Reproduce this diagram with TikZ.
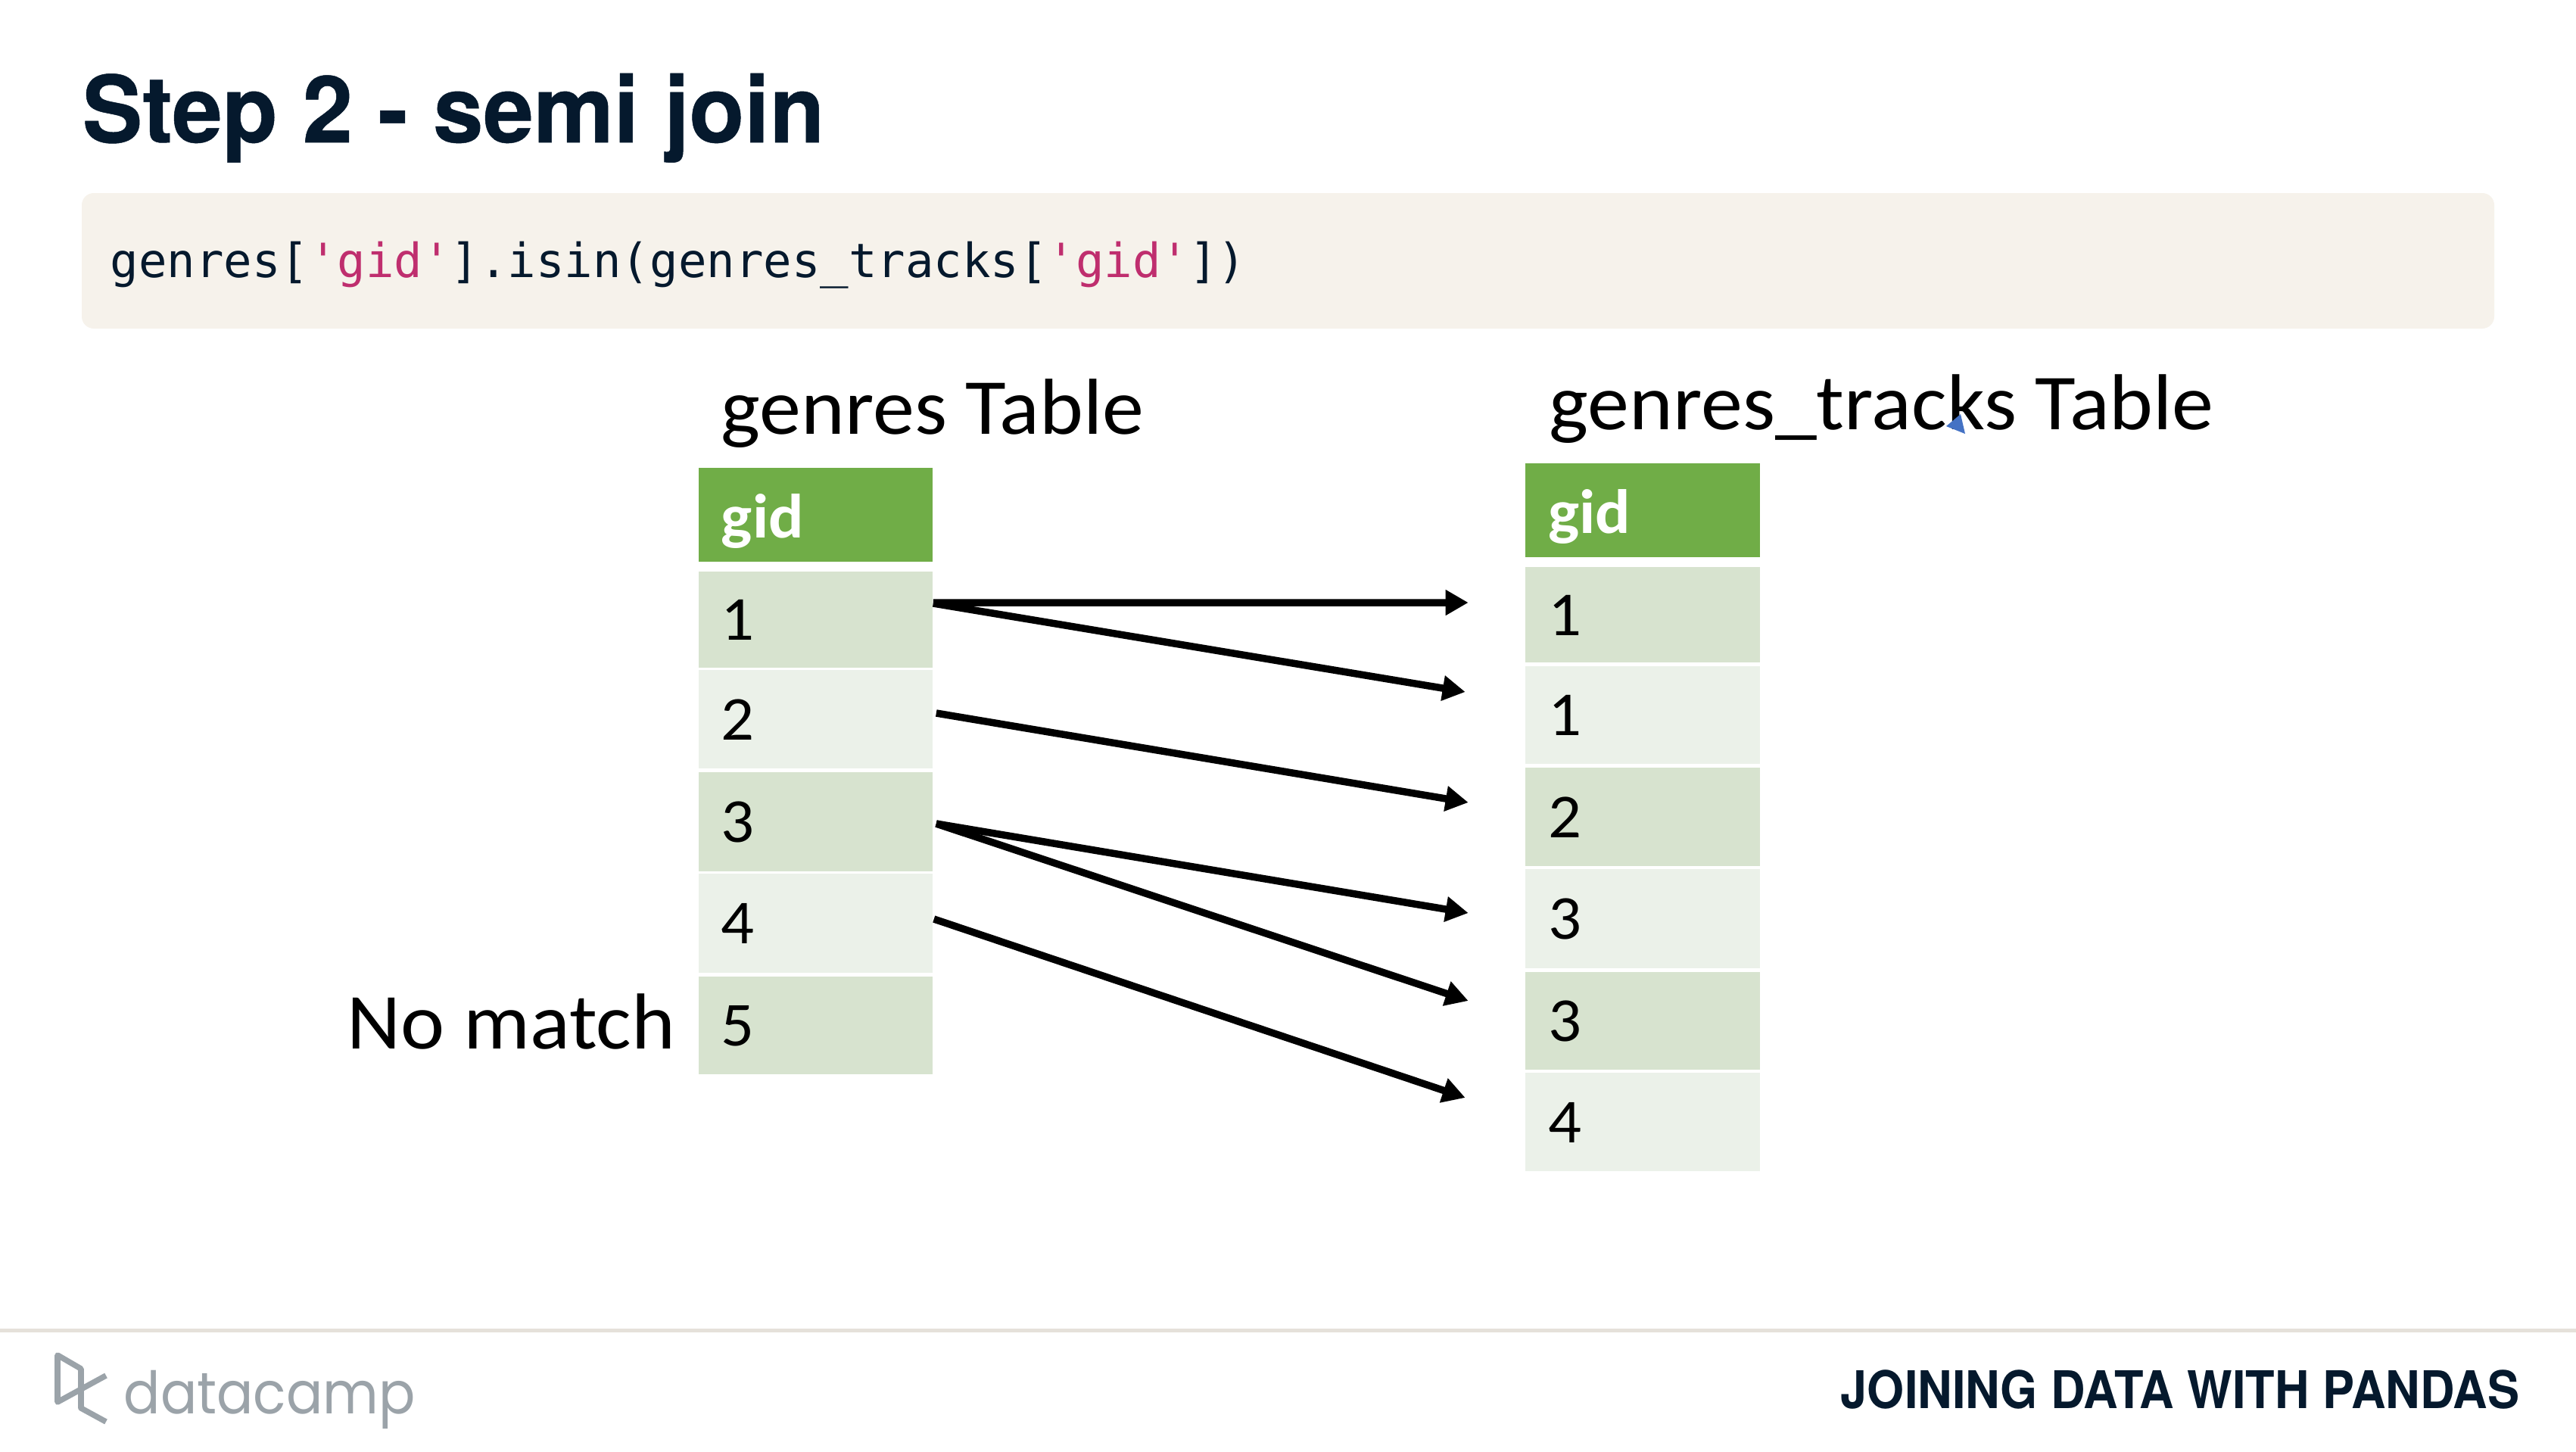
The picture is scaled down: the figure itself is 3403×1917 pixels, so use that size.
\documentclass[tikz,border=0pt]{standalone}
\usepackage{fontspec}
\usetikzlibrary{arrows.meta}
\setmainfont{Carlito}[FakeStretch=1.05]
\newfontfamily\titlefont{TeX Gyre Heros}[FakeStretch=0.975,BoldFeatures={FakeBold=0.4}]
\newfontfamily\footfont{TeX Gyre Heros}[FakeStretch=0.92]
\newfontfamily\codefont{DejaVu Sans Mono}
\newfontfamily\logofont{Poppins}[FakeStretch=0.925]
\definecolor{ink}{HTML}{05192D}
\definecolor{codebg}{HTML}{F6F2EB}
\definecolor{pinkstr}{HTML}{BF2E6E}
\definecolor{rulegray}{HTML}{E5E1DA}
\definecolor{logogray}{HTML}{9BA3A9}
\definecolor{headgreen}{HTML}{70AD47}
\definecolor{banddark}{HTML}{D7E3CF}
\definecolor{bandlight}{HTML}{EBF1E9}
\definecolor{cursorblue}{HTML}{4472C4}
\newcommand{\qs}[1]{\textcolor{pinkstr}{#1}}
\tikzset{
  cellbase/.style={rectangle,inner ysep=0pt,inner xsep=.3cm,minimum width=3.09cm,text width=2.49cm,align=left,text depth=0pt},
  headcell/.style={cellbase,fill=headgreen,text=white,font=\fontsize{23.5}{23.5}\selectfont\bfseries,text height=.60cm},
  darkcell/.style={cellbase,fill=banddark,text=black,font=\fontsize{23.5}{23.5}\selectfont,text height=.54cm},
  lightcell/.style={cellbase,fill=bandlight,text=black,font=\fontsize{23.5}{23.5}\selectfont,text height=.54cm},
  tabletitle/.style={anchor=base west,inner sep=0pt,text=black,font=\fontsize{29.8}{29.8}\selectfont},
  joinarrow/.style={line width=.095cm,black,-{Triangle[length=.30cm,width=.32cm]}},
}
\begin{document}
\begin{tikzpicture}[x=.01cm,y=-.01cm]
\path[use as bounding box,fill=white] (0,0) rectangle (3403,1917);
% title and code
\node[anchor=base west,inner sep=0pt,text=ink,font=\titlefont\fontsize{34.8}{34.8}\selectfont\bfseries] (title) at (108,188) {Step 2 - semi join};
\fill[codebg,rounded corners=.16cm] (108,255) rectangle (3295,434);
\node[anchor=base west,inner sep=0pt,text=ink,font=\codefont\fontsize{17.72}{17.72}\selectfont] (code) at (145,366) {genres[\qs{'gid'}].isin(genres\_tracks[\qs{'gid'}])};
% table titles
\node[tabletitle] (ltitle) at (952,573) {genres Table};
\node[tabletitle] (rtitle) at (2046,567) {genres\_tracks Table};
\node[tabletitle] (nomatch) at (458,1385) {No match};
\fill[cursorblue] (2571,563) -- (2590,547) -- (2596,573) -- cycle;
% left table
\node[headcell,minimum height=1.24cm] (LH) at (1077.5,680) {gid};
\node[darkcell,minimum height=1.27cm] (L1) at (1077.5,818.5) {1};
\node[lightcell,minimum height=1.30cm] (L2) at (1077.5,950) {2};
\node[darkcell,minimum height=1.31cm] (L3) at (1077.5,1085.5) {3};
\node[lightcell,minimum height=1.31cm] (L4) at (1077.5,1219.5) {4};
\node[darkcell,minimum height=1.29cm] (L5) at (1077.5,1354.5) {5};
% right table
\node[headcell,minimum height=1.24cm] (RH) at (2170,674) {gid};
\node[darkcell,minimum height=1.26cm] (R1) at (2170,812) {1};
\node[lightcell,minimum height=1.29cm] (R2) at (2170,944.5) {1};
\node[darkcell,minimum height=1.30cm] (R3) at (2170,1079) {2};
\node[lightcell,minimum height=1.31cm] (R4) at (2170,1213.5) {3};
\node[darkcell,minimum height=1.29cm] (R5) at (2170,1348.5) {3};
\node[lightcell,minimum height=1.30cm] (R6) at (2170,1482) {4};
% arrows
\draw[joinarrow] ([yshift=.225cm]L1.east) -- ([xshift=-.75cm,yshift=.16cm]R1.west);
\draw[joinarrow] ([yshift=.215cm]L1.east) -- ([xshift=-.79cm,yshift=.305cm]R2.west);
\draw[joinarrow] ([xshift=.04cm,yshift=.08cm]L2.east) -- ([xshift=-.75cm,yshift=.19cm]R3.west);
\draw[joinarrow] ([xshift=.04cm,yshift=-.025cm]L3.east) -- ([xshift=-.75cm,yshift=.075cm]R4.west);
\draw[joinarrow] ([xshift=.04cm,yshift=-.025cm]L3.east) -- ([xshift=-.75cm,yshift=.265cm]R5.west);
\draw[joinarrow] ([xshift=.01cm,yshift=.055cm]L4.east) -- ([xshift=-.79cm,yshift=.32cm]R6.west);
% footer
\fill[rulegray] (0,1755) rectangle (3403,1760);
\draw[logogray,line width=.075cm,line join=round] (140,1817) -- (76,1852) -- (76,1790) -- (107,1808) -- (107,1860) -- (140,1878);
\node[anchor=base west,inner sep=0pt,text=logogray,font=\logofont\fontsize{22}{22}\selectfont] (logo) at (163,1867) {datacamp};
\node[anchor=base east,inner sep=0pt,text=ink,font=\footfont\fontsize{19.5}{19.5}\selectfont\bfseries] (foot) at (3329,1860) {JOINING DATA WITH PANDAS};
\end{tikzpicture}
\end{document}
